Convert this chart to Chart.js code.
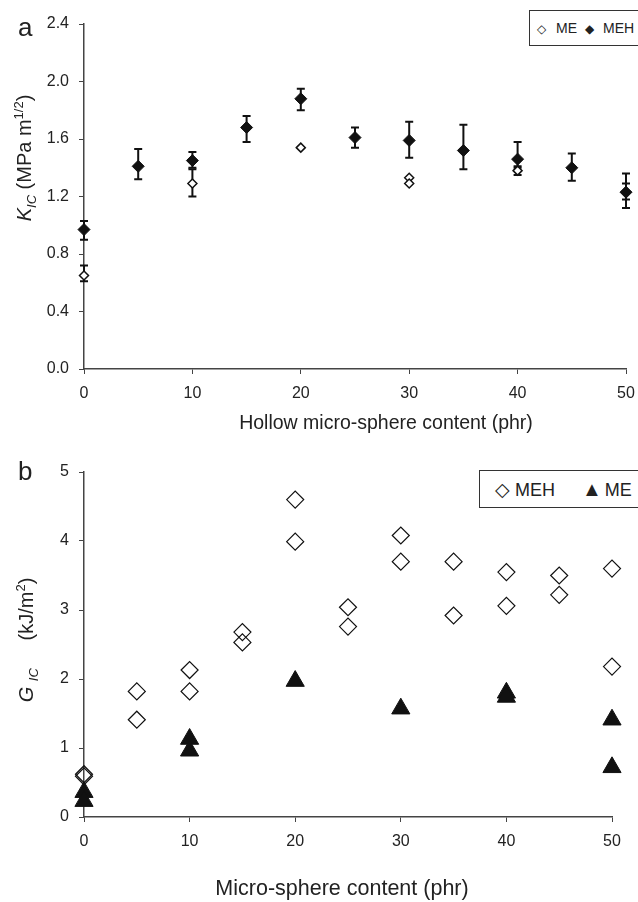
<!DOCTYPE html>
<html>
<head>
<meta charset="utf-8">
<script src="https://cdn.jsdelivr.net/npm/chart.js@4"></script>
<style>
  html, body { margin: 0; padding: 0; background: #fff; }
  #page { position: relative; width: 638px; height: 902px; overflow: hidden; font-family: "Liberation Sans", Arial, sans-serif; color: #222; }
  .cv { position: absolute; left: 0; }
  .txt { position: absolute; white-space: nowrap; }
  .panel { font-size: 26px; }
  .xtitle { transform: translate(-50%, -50%); }
  .ytitle { font-size: 20px; transform: translate(-50%, -50%) rotate(-90deg); }
  .ytitle sub { font-size: 13px; }
  .ytitle sup { font-size: 13px; }
  .legend { position: absolute; border: 1px solid #333; background: #fff; white-space: nowrap; box-sizing: border-box; }
  .legend span { display: inline-block; }
</style>
</head>
<body>
<div id="page">
  <canvas id="chartA" class="cv" style="top:0" width="638" height="420"></canvas>
  <canvas id="chartB" class="cv" style="top:420px" width="638" height="482"></canvas>

  <div class="txt panel" style="left:18px; top:12px;">a</div>
  <div class="txt panel" style="left:18px; top:456px;">b</div>

  <div class="txt xtitle" style="left:386px; top:422px; font-size:19.5px;">Hollow micro-sphere content (phr)</div>
  <div class="txt xtitle" style="left:342px; top:888px; font-size:21.5px;">Micro-sphere content (phr)</div>

  <div class="txt ytitle" style="left:25px; top:158px;"><i>K</i><sub><i>IC</i></sub> (MPa m<sup>1/2</sup>)</div>
  <div class="txt ytitle" style="left:27px; top:640px;"><i>G</i> <sub><i>IC</i></sub>&nbsp;&nbsp;&nbsp;&nbsp;&nbsp;(kJ/m<sup>2</sup>)</div>

  <div class="legend" style="left:529px; top:10px; width:130px; height:36px; font-size:14px; line-height:34px; padding-left:7px;">
    <span style="font-size:12px">&#9671;</span><span style="margin-left:10px">ME</span><span style="font-size:12px; margin-left:8px">&#9670;</span><span style="margin-left:9px">MEH</span>
  </div>
  <div class="legend" style="left:479px; top:470px; width:180px; height:38px; font-size:18px; line-height:36px; padding-left:15px;">
    <span style="font-size:19px">&#9671;</span><span style="margin-left:5px">MEH</span><span style="font-size:20px; margin-left:27px">&#9650;</span><span style="margin-left:3px">ME</span>
  </div>
</div>

<script>
// panel a: fracture toughness K_IC (MPa m^1/2)
const contentMEH_A = [0, 5, 10, 15, 20, 25, 30, 35, 40, 45, 50];
const kMEH = [0.97, 1.41, 1.45, 1.68, 1.88, 1.61, 1.59, 1.52, 1.46, 1.40, 1.23];
const kMEHLow = [0.90, 1.32, 1.40, 1.58, 1.80, 1.54, 1.47, 1.39, 1.40, 1.31, 1.12];
const kMEHHigh = [1.03, 1.53, 1.51, 1.76, 1.95, 1.68, 1.72, 1.70, 1.58, 1.50, 1.36];

const contentME_A = [0, 10, 20, 30, 30, 40, 50];
const kME = [0.65, 1.29, 1.54, 1.33, 1.29, 1.38, 1.23];
const kMELow = [0.61, 1.20, null, null, null, 1.35, 1.18];
const kMEHigh = [0.72, 1.39, null, null, null, 1.41, 1.29];

// panel b: fracture energy G_IC (kJ/m2)
const contentMEH_B = [0, 0, 5, 5, 10, 10, 15, 15, 20, 20, 25, 25, 30, 30, 35, 35, 40, 40, 45, 45, 50, 50];
const gMEH = [0.62, 0.59, 1.82, 1.41, 2.13, 1.82, 2.68, 2.53, 4.60, 3.99, 3.04, 2.76, 4.08, 3.70, 3.70, 2.92, 3.55, 3.06, 3.50, 3.22, 3.60, 2.18];

const contentME_B = [0, 0, 10, 10, 20, 30, 40, 40, 50, 50];
const gME = [0.36, 0.23, 1.13, 0.96, 1.97, 1.57, 1.80, 1.74, 1.41, 0.72];

const ticksX = [0, 10, 20, 30, 40, 50];

const toPoints = (xs, ys) => xs.map((x, i) => ({ x: x, y: ys[i] }));

const ink = '#111';
const axisColor = '#444';
const tickFont = { family: 'Liberation Sans', size: 16 };

// vertical error bars with caps, drawn under the markers
const errorBars = {
  id: 'errorBars',
  beforeDatasetsDraw(chart) {
    const { ctx } = chart;
    const x = chart.scales.x;
    const y = chart.scales.y;
    chart.data.datasets.forEach(ds => {
      if (!ds.errLow) return;
      ctx.save();
      ctx.strokeStyle = ink;
      ctx.lineWidth = 2;
      ds.data.forEach((p, i) => {
        const lo = ds.errLow[i];
        const hi = ds.errHigh[i];
        if (lo == null || hi == null) return;
        const px = x.getPixelForValue(p.x);
        const yl = y.getPixelForValue(lo);
        const yh = y.getPixelForValue(hi);
        ctx.beginPath();
        ctx.moveTo(px, yl);
        ctx.lineTo(px, yh);
        ctx.moveTo(px - 4, yl);
        ctx.lineTo(px + 4, yl);
        ctx.moveTo(px - 4, yh);
        ctx.lineTo(px + 4, yh);
        ctx.stroke();
      });
      ctx.restore();
    });
  }
};

function axisOptions(min, max, step, fmt, fit) {
  return {
    type: 'linear',
    min: min,
    max: max,
    afterBuildTicks: step.list ? (s => { s.ticks = step.list.map(v => ({ value: v })); }) : undefined,
    ticks: {
      stepSize: step.size,
      color: '#222',
      font: tickFont,
      padding: step.pad,
      callback: fmt
    },
    grid: { drawOnChartArea: false, drawTicks: true, tickLength: 5, color: axisColor, lineWidth: 1 },
    border: { display: true, color: axisColor, width: 1.5 },
    afterFit: fit
  };
}

function makeChart(id, datasets, opts) {
  return new Chart(document.getElementById(id), {
    type: 'scatter',
    data: { datasets: datasets },
    plugins: [errorBars],
    options: {
      responsive: false,
      animation: false,
      layout: { padding: { top: opts.top, right: opts.right, left: 0, bottom: 0 } },
      plugins: { legend: { display: false }, tooltip: { enabled: false } },
      scales: {
        x: axisOptions(0, 50, { list: ticksX, pad: 10 }, v => v, s => {
          s.height = opts.xh;
          s.paddingLeft = 0;
          s.paddingRight = 0;
        }),
        y: axisOptions(opts.ymin, opts.ymax, { size: opts.ystep, pad: 10 }, opts.yfmt, s => { s.width = 84; })
      }
    }
  });
}

makeChart('chartA', [
  {
    label: 'MEH',
    data: toPoints(contentMEH_A, kMEH),
    errLow: kMEHLow,
    errHigh: kMEHHigh,
    pointStyle: 'rectRot',
    pointRadius: 6,
    backgroundColor: ink,
    borderColor: ink,
    borderWidth: 1,
    clip: false
  },
  {
    label: 'ME',
    data: toPoints(contentME_A, kME),
    errLow: kMELow,
    errHigh: kMEHigh,
    pointStyle: 'rectRot',
    pointRadius: 4.5,
    backgroundColor: '#fff',
    borderColor: ink,
    borderWidth: 1.5,
    clip: false
  }
], { top: 24, right: 12, xh: 51, ymin: 0, ymax: 2.4, ystep: 0.4, yfmt: v => Number(v).toFixed(1) });

makeChart('chartB', [
  {
    label: 'MEH',
    data: toPoints(contentMEH_B, gMEH),
    pointStyle: 'rectRot',
    pointRadius: 8.5,
    backgroundColor: 'rgba(255,255,255,0)',
    borderColor: ink,
    borderWidth: 1.2,
    clip: false
  },
  {
    label: 'ME',
    data: toPoints(contentME_B, gME),
    pointStyle: 'triangle',
    pointRadius: 10.5,
    backgroundColor: ink,
    borderColor: ink,
    borderWidth: 1,
    clip: false
  }
], { top: 52, right: 26, xh: 85, ymin: 0, ymax: 5, ystep: 1, yfmt: v => v });
</script>
</body>
</html>
